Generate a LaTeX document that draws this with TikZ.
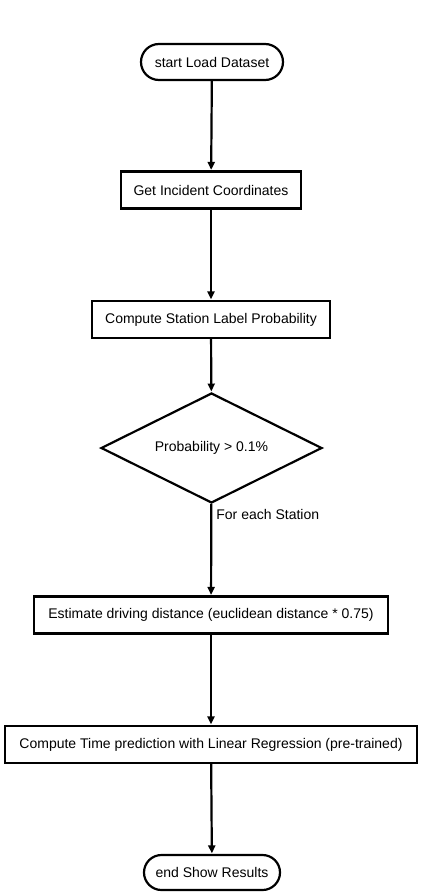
\documentclass[tikz,border=0pt]{standalone}
\usepackage{fontspec}
\setmainfont{Liberation Sans}
\usetikzlibrary{shapes.geometric, shapes.misc, arrows.meta}

\tikzset{
  flowTerm/.style={draw, rounded rectangle, minimum height=36pt, inner sep=0pt},
  flowStep/.style={draw, rectangle, minimum height=37pt, inner sep=0pt},
  flowTest/.style={draw, diamond, shape aspect=2, inner sep=0pt},
  flowArrow/.style={-{Triangle[length=8pt, width=7pt]}, shorten >=0.5pt}
}

\begin{document}
\begin{tikzpicture}[x=1pt, y=-1pt, line width=2.2pt, font=\fontsize{14}{16}\selectfont]
    \useasboundingbox (0,0) rectangle (421,894);

    % steps of the flow, top to bottom
    \node[flowTerm, minimum width=142pt] (start) at (212,62) {start Load Dataset};
    \node[flowStep, minimum width=180pt] (coords) at (211,190) {Get Incident Coordinates};
    \node[flowStep, minimum width=238pt] (prob) at (211,319.5) {Compute Station Label Probability};
    \node[flowTest, minimum width=221pt, minimum height=110pt] (test) at (211.5,448) {Probability > 0.1\%};
    \node[flowStep, minimum width=354pt] (dist) at (211,615) {Estimate driving distance (euclidean distance * 0.75)};
    \node[flowStep, minimum width=412pt] (time) at (211,744.5) {Compute Time prediction with Linear Regression (pre-trained)};
    \node[flowTerm, minimum width=136pt, minimum height=35pt] (stop) at (212,872.5) {end Show Results};

    \draw[flowArrow] (start) -- (coords);
    \draw[flowArrow] (coords) -- (prob);
    \draw[flowArrow] (prob) -- (test);
    \draw[flowArrow] (test) -- node[pos=0.12, right, inner sep=4pt] (each) {For each Station} (dist);
    \draw[flowArrow] (dist) -- (time);
    \draw[flowArrow] (time) -- (stop);
\end{tikzpicture}
\end{document}
